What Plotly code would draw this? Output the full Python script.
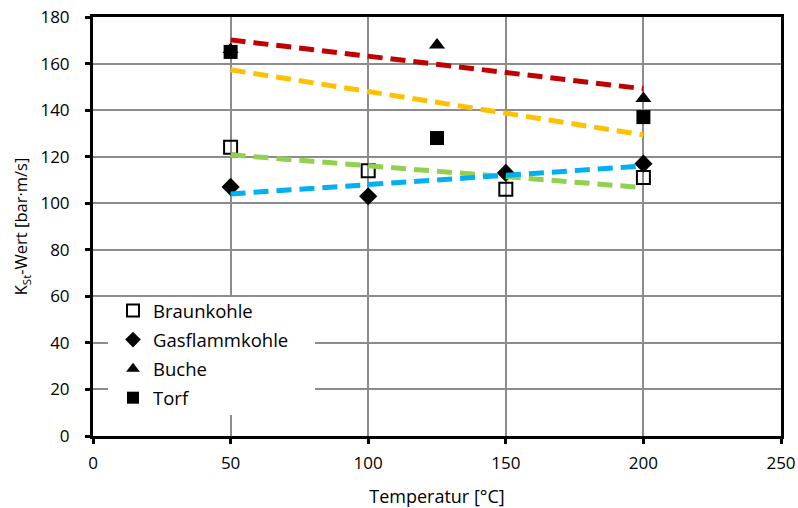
import numpy as np
import plotly.graph_objects as go

# Data
braun_x = [50, 100, 150, 200]
braun_y = [124, 114, 106, 111]
gas_x = [50, 100, 150, 200]
gas_y = [107, 103, 113, 117]
buche_x = [50, 125, 200]
buche_y = [166, 168, 145]
torf_x = [50, 125, 200]
torf_y = [165, 128, 137]

x_ticks = [0, 50, 100, 150, 200, 250]
y_ticks = [0, 20, 40, 60, 80, 100, 120, 140, 160, 180]

FONT = "Open Sans"

L, R, T, B = 93, 781, 17, 436  # plot area in window pixels
W, H = 798, 508
PW, PH = R - L, B - T

fig = go.Figure()

def trend(xs, ys, color):
    k, d = np.polyfit(xs, ys, 1)
    xx = [min(xs), max(xs)]
    yy = [k * v + d for v in xx]
    fig.add_trace(go.Scatter(x=xx, y=yy, mode="lines", showlegend=False,
                             line=dict(color=color, width=5, dash="15px,8px"),
                             hoverinfo="skip"))

fig.add_trace(go.Scatter(x=braun_x, y=braun_y, mode="markers", name="Braunkohle",
                         legendgroup="a",
                         marker=dict(symbol="square-open", size=13, color="black",
                                     line=dict(width=2, color="black"))))
fig.add_trace(go.Scatter(x=gas_x, y=gas_y, mode="markers", name="Gasflammkohle",
                         legendgroup="b",
                         marker=dict(symbol="diamond", size=14, color="black")))
fig.add_trace(go.Scatter(x=buche_x, y=buche_y, mode="markers", name="Buche",
                         legendgroup="c",
                         marker=dict(symbol="triangle-up", size=14, color="black")))
fig.add_trace(go.Scatter(x=torf_x, y=torf_y, mode="markers", name="Torf",
                         legendgroup="d",
                         marker=dict(symbol="square", size=14, color="black")))

trend(buche_x, buche_y, "#C00000")
trend(torf_x, torf_y, "#FFC000")
trend(braun_x, braun_y, "#92D050")
trend(gas_x, gas_y, "#00B0F0")

# white legend background box
fig.add_shape(type="rect", xref="paper", yref="paper",
              x0=(108 - L) / PW, x1=(315 - L) / PW,
              y0=(B - 415) / PH, y1=(B - 297) / PH,
              fillcolor="white", line=dict(width=0), layer="above")

fig.update_layout(
    width=W, height=H,
    margin=dict(l=L, r=W - R, t=T, b=H - B),
    paper_bgcolor="white", plot_bgcolor="white",
    font=dict(family=FONT, size=16, color="black"),
    legend=dict(x=(113 - L) / PW, y=(B - 292) / PH, xanchor="left", yanchor="top",
                bgcolor="rgba(0,0,0,0)", font=dict(size=18.5, family=FONT),
                tracegroupgap=2, itemsizing="constant"),
    xaxis=dict(range=[0, 250], tickvals=x_ticks, showgrid=True, gridcolor="#8c8c8c",
               gridwidth=2, zeroline=False, showline=True, linecolor="black",
               linewidth=3, mirror=True, ticks="outside", ticklen=5, tickwidth=3,
               tickcolor="black", automargin=False, ticklabeloverflow="allow",
               ticklabelstandoff=5,
               title=dict(text="Temperatur [°C]", standoff=19, font=dict(size=18)),
               tickfont=dict(size=17)),
    yaxis=dict(range=[0, 180], tickvals=y_ticks, showgrid=True, gridcolor="#8c8c8c",
               gridwidth=2, zeroline=False, showline=True, linecolor="black",
               linewidth=3, mirror=True, ticks="outside", ticklen=5, tickwidth=3,
               tickcolor="black", automargin=False, ticklabeloverflow="allow",
               ticklabelstandoff=12,
               title=dict(text="K<sub>St</sub>-Wert [bar·m/s]", standoff=9, font=dict(size=16.5)),
               tickfont=dict(size=17)),
)

fig.write_html("out.html", config={"displayModeBar": False},
               post_script="document.body.style.margin='0';document.body.style.overflow='hidden';")
